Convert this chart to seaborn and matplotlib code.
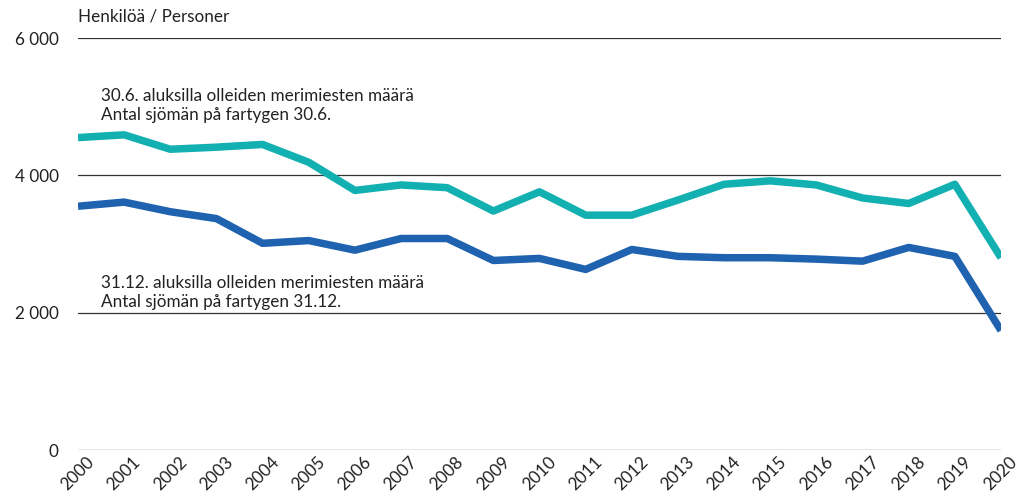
import matplotlib
matplotlib.use("Agg")
import matplotlib.pyplot as plt
import seaborn as sns
import pandas as pd

years = list(range(2000, 2021))
june_values = [4550, 4590, 4380, 4410, 4450, 4190, 3780, 3860, 3820, 3480, 3760,
               3420, 3420, 3640, 3870, 3920, 3860, 3670, 3590, 3870, 2800]
dec_values = [3550, 3610, 3470, 3370, 3010, 3050, 2910, 3080, 3080, 2760, 2790,
              2630, 2920, 2820, 2800, 2800, 2780, 2750, 2950, 2820, 1740]
june_label = "30.6. aluksilla olleiden merimiesten määrä\nAntal sjömän på fartygen 30.6."
dec_label = "31.12. aluksilla olleiden merimiesten määrä\nAntal sjömän på fartygen 31.12."
y_ticks = [0, 2000, 4000, 6000]
y_tick_labels = ["0", "2 000", "4 000", "6 000"]
unit_label = "Henkilöä / Personer"

sns.set_theme(style="white")
plt.rcParams['font.family'] = ['Lato', 'DejaVu Sans']

df = pd.DataFrame({
    "year": years * 2,
    "value": june_values + dec_values,
    "series": ["june"] * len(years) + ["dec"] * len(years),
})

W, H = 1021, 498
fig = plt.figure(figsize=(W / 100, H / 100), dpi=100)
ax = fig.add_axes([78 / W, 1 - 450 / H, (1001 - 78) / W, (450 - 38) / H])

sns.lineplot(data=df, x="year", y="value", hue="series",
             palette={"june": "#12b0b1", "dec": "#1f62b0"},
             linewidth=5.4, ax=ax, legend=False, solid_capstyle="butt")

fs = 12.3
ax.set_xlim(2000, 2020)
ax.set_ylim(0, 6000)
ax.set_yticks(y_ticks)
ax.set_yticklabels(y_tick_labels, fontsize=fs, color="#222222")
ax.set_xticks(years)
ax.set_xticklabels([str(y) for y in years], rotation=45, ha="center",
                   fontsize=fs, color="#222222")
ax.tick_params(axis="y", length=0, pad=14)
ax.tick_params(axis="x", length=0, pad=3)
ax.set_xlabel("")
ax.set_ylabel("")
for s in ax.spines.values():
    s.set_visible(False)
ax.grid(False)
for y in y_ticks:
    ax.axhline(y, color="#333333", linewidth=0.9, zorder=0)

ax.text(2000.5, 5020, june_label, fontsize=fs, color="#222222",
        va="center", ha="left", linespacing=1.2)
ax.text(2000.5, 2290, dec_label, fontsize=fs, color="#222222",
        va="center", ha="left", linespacing=1.2)
ax.text(0, 1 + (38 - 16) / 412, unit_label, transform=ax.transAxes,
        fontsize=fs, color="#222222", va="center", ha="left")

fig.savefig("out.png", dpi=100)
